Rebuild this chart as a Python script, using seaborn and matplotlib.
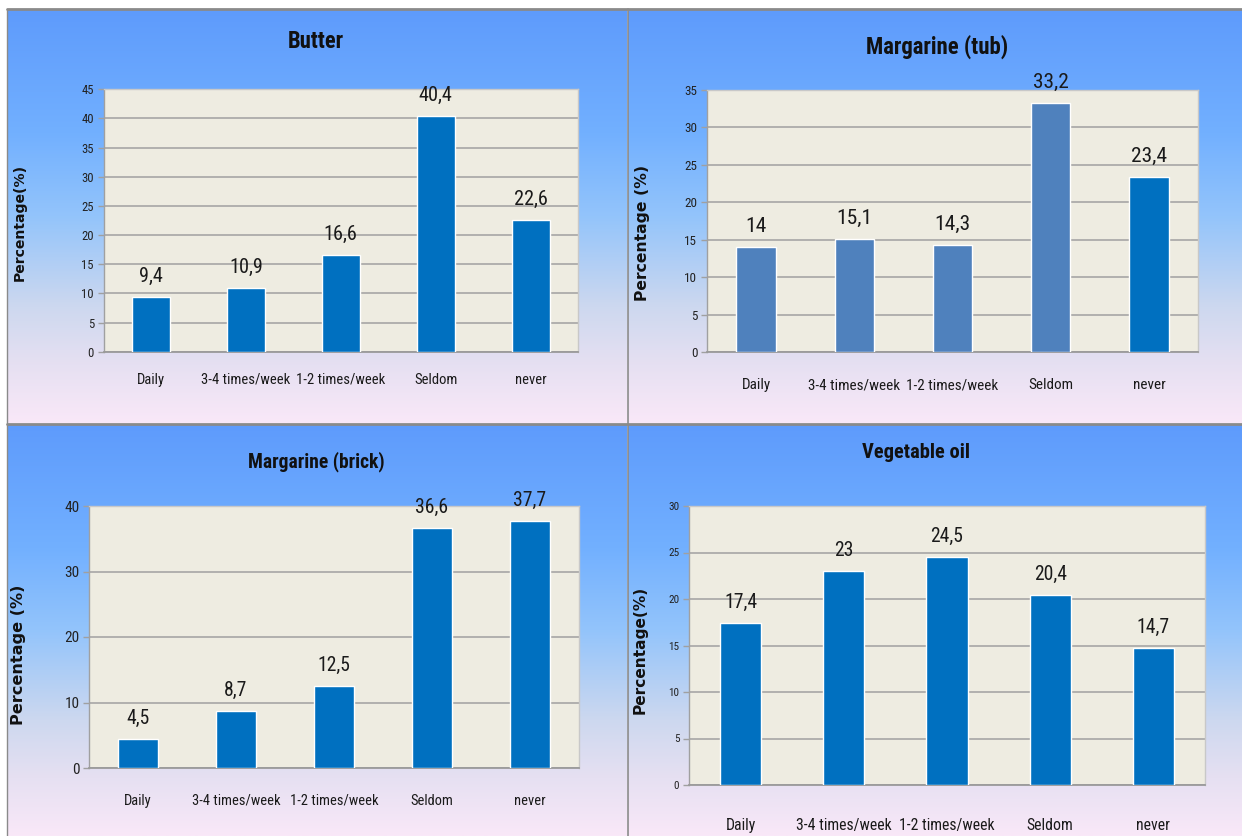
import os
import matplotlib
matplotlib.use("Agg")
import matplotlib.pyplot as plt
from matplotlib import font_manager
from matplotlib.font_manager import FontProperties
from matplotlib.colors import LinearSegmentedColormap
import numpy as np
import pandas as pd
import seaborn as sns

# ---- data ----
categories = ["Daily", "3-4 times/week", "1-2 times/week", "Seldom", "never"]
butter = [9.4, 10.9, 16.6, 40.4, 22.6]
margarine_tub = [14, 15.1, 14.3, 33.2, 23.4]
margarine_brick = [4.5, 8.7, 12.5, 36.6, 37.7]
vegetable_oil = [17.4, 23, 24.5, 20.4, 14.7]

titles = ["Butter", "Margarine (tub)", "Margarine (brick)", "Vegetable oil"]
ylabels = ["Percentage(%)", "Percentage (%)", "Percentage (%)", "Percentage(%)"]
y_max = [45, 35, 40, 30]
y_step = [5, 5, 10, 5]

sns.set_theme(style="white")


# ---- pick a narrow sans face for the chart text ----
def _weight(f):
    w = f.weight
    if isinstance(w, str):
        w = font_manager.weight_dict.get(w, 400)
    return w


def narrow_faces():
    keys = ["LiberationSansNarrow", "RobotoCondensed", "Roboto_Condensed",
            "NotoSans-Condensed", "NotoSans-SemiCondensed", "DejaVuSansCondensed"]
    for key in keys:
        found = [f for f in font_manager.fontManager.ttflist
                 if os.path.basename(f.fname).startswith(key)]
        reg = [f for f in found if _weight(f) == 400 and f.style == "normal"]
        bold = [f for f in found if _weight(f) == 700 and f.style == "normal"]
        if reg:
            r = FontProperties(fname=reg[0].fname)
            b = FontProperties(fname=bold[0].fname) if bold else FontProperties(
                family=reg[0].name, weight="bold")
            return r, b
    return (FontProperties(family="DejaVu Sans", stretch="condensed"),
            FontProperties(family="DejaVu Sans", stretch="condensed", weight="bold"))


FP_REG, FP_BOLD = narrow_faces()
FP_YLAB = FontProperties(family="DejaVu Sans", weight="bold")

W, H = 1242, 836
fig = plt.figure(figsize=(W / 100, H / 100), dpi=100)
fig.patch.set_facecolor("white")
renderer = fig.canvas.get_renderer()


def fit_size(text, fp, target_px):
    """Font size (pt) at which `text` spans about target_px pixels."""
    probe = fig.text(0, 0, text, fontproperties=fp)
    probe.set_fontsize(20)
    w = probe.get_window_extent(renderer).width
    probe.remove()
    return 20 * target_px / w


# ---- panel backgrounds (pixel coordinate canvas) ----
bg = fig.add_axes([0, 0, 1, 1])
bg.set_xlim(0, W)
bg.set_ylim(H, 0)
bg.axis("off")
grad = LinearSegmentedColormap.from_list(
    "panel",
    [(0.0, "#5e9bfc"), (0.30, "#72b0ff"), (0.50, "#93c4fb"),
     (0.72, "#cdd8ef"), (0.86, "#e6e0f2"), (1.0, "#f9e8f8")])
g = np.linspace(0, 1, 256).reshape(-1, 1)
panels = [(7, 627, 9, 423), (628, W, 9, 423), (7, 627, 424, H), (628, W, 424, H)]
for x0, x1, y0, y1 in panels:
    bg.imshow(g, cmap=grad, aspect="auto", extent=(x0, x1, y1, y0), zorder=0)
bg.plot([7, W], [8.5, 8.5], color="#8a8a8a", lw=2, zorder=2)
bg.plot([7, 7], [8.5, H], color="#8a8a8a", lw=1, zorder=2)
bg.plot([627.5, 627.5], [8.5, H], color="#8a8a8a", lw=1.2, zorder=2)
bg.plot([7, W], [423.5, 423.5], color="#8a8a8a", lw=2, zorder=2)

# ---- plot areas in pixel boxes (x0, x1, ytop, ybottom) ----
boxes = [(103.6, 578, 89.3, 351.7), (707, 1198, 90, 352),
         (89, 579, 506, 768), (689, 1205, 506, 785)]
series = [butter, margarine_tub, margarine_brick, vegetable_oil]
bar_colors = [
    ["#0070c0"] * 5,
    ["#4f81bd", "#4f81bd", "#4f81bd", "#4f81bd", "#0070c0"],
    ["#0070c0"] * 5,
    ["#0070c0"] * 5,
]
title_pos = [(316, 42), (937, 47), (316, 462), (916, 453)]
title_px = [56, 142, 136, 108]         # title widths
xtick_px = [89, 92, 88, 96]            # width of "3-4 times/week"
value_px = [34, 36, 33, 33]            # width of a "00,0" value label
ytick_px = [12.5, 13, 15, 11]          # width of a two-digit tick label
ylabel_px = [117, 136, 140, 128]       # length of the axis title
xtick_pad = [15, 19, 18.5, 24]
ylabel_xy = [(27, 222), (650, 233), (26, 655), (648, 650)]


def fmt(v):
    return f"{v:g}".replace(".", ",")


for i, (x0, x1, yt, yb) in enumerate(boxes):
    ax = fig.add_axes([x0 / W, 1 - yb / H, (x1 - x0) / W, (yb - yt) / H])
    df = pd.DataFrame({"cat": categories, "val": series[i]})
    sns.barplot(data=df, x="cat", y="val", hue="cat", palette=bar_colors[i],
                legend=False, width=0.4, saturation=1, ax=ax, zorder=3)
    ax.set_facecolor("#eeece1")
    ax.set_ylim(0, y_max[i])
    ax.set_yticks(np.arange(0, y_max[i] + 0.1, y_step[i]))
    ax.set_xlim(-0.5, 4.5)
    ax.grid(axis="y", color="#a0a0a0", lw=1.1, zorder=0)
    ax.set_axisbelow(True)
    for side in ["top", "right"]:
        ax.spines[side].set_color("#c8c8c8")
        ax.spines[side].set_linewidth(1)
    ax.spines["left"].set_color("#a0a0a0")
    ax.spines["bottom"].set_color("#9a9a9a")
    ax.spines["left"].set_linewidth(1)
    ax.spines["bottom"].set_linewidth(1.3)
    ax.tick_params(axis="y", left=True, length=4, width=1, color="#a0a0a0",
                   labelcolor="#222222", pad=3)
    ax.tick_params(axis="x", length=0, labelcolor="#1a1a1a", pad=xtick_pad[i])
    ax.set_xlabel("")

    xs = fit_size("3-4 times/week", FP_REG, xtick_px[i])
    for lbl in ax.get_xticklabels():
        lbl.set_fontproperties(FP_REG)
        lbl.set_fontsize(xs)
    ys = fit_size("45", FP_REG, ytick_px[i])
    for lbl in ax.get_yticklabels():
        lbl.set_fontproperties(FP_REG)
        lbl.set_fontsize(ys)

    vs = fit_size("40,4", FP_REG, value_px[i])
    for cont in ax.containers:
        texts = ax.bar_label(cont, labels=[fmt(v) for v in cont.datavalues],
                             padding=8, color="#1a1a1a", clip_on=False)
        for t in texts:
            t.set_fontproperties(FP_REG)
            t.set_fontsize(vs)

    ls = fit_size(ylabels[i], FP_YLAB, ylabel_px[i])
    ax.set_ylabel(ylabels[i], fontproperties=FP_YLAB, color="#111111")
    ax.yaxis.label.set_fontsize(ls)
    lx, ly = ylabel_xy[i]
    ax.yaxis.set_label_coords((lx - x0) / (x1 - x0), (yb - ly) / (yb - yt))

    tx, ty = title_pos[i]
    ts = fit_size(titles[i], FP_BOLD, title_px[i])
    tt = fig.text(tx / W, 1 - ty / H, titles[i], ha="center", va="center",
                  fontproperties=FP_BOLD, color="#111111")
    tt.set_fontsize(ts)

fig.savefig("out.png", dpi=100, facecolor=fig.get_facecolor())
